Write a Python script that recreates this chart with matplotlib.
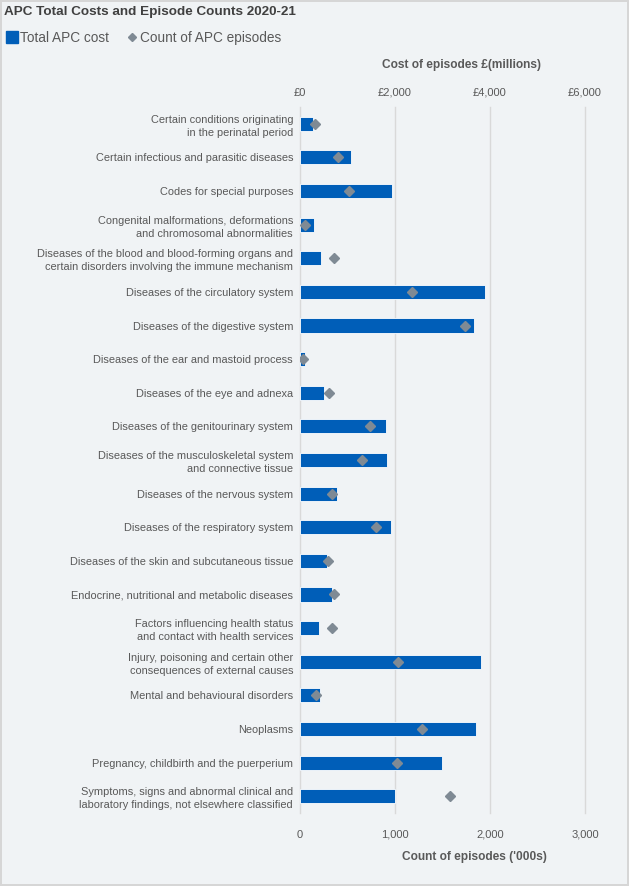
import matplotlib
matplotlib.use('Agg')
import matplotlib.pyplot as plt
from matplotlib.lines import Line2D

plt.rcParams['font.family'] = ['Liberation Sans', 'DejaVu Sans']

# categories (ICD chapters), top to bottom
categories = [
    'Certain conditions originating\nin the perinatal period',
    'Certain infectious and parasitic diseases',
    'Codes for special purposes',
    'Congenital malformations, deformations\nand chromosomal abnormalities',
    'Diseases of the blood and blood-forming organs and\ncertain disorders involving the immune mechanism',
    'Diseases of the circulatory system',
    'Diseases of the digestive system',
    'Diseases of the ear and mastoid process',
    'Diseases of the eye and adnexa',
    'Diseases of the genitourinary system',
    'Diseases of the musculoskeletal system\nand connective tissue',
    'Diseases of the nervous system',
    'Diseases of the respiratory system',
    'Diseases of the skin and subcutaneous tissue',
    'Endocrine, nutritional and metabolic diseases',
    'Factors influencing health status\nand contact with health services',
    'Injury, poisoning and certain other\nconsequences of external causes',
    'Mental and behavioural disorders',
    'Neoplasms',
    'Pregnancy, childbirth and the puerperium',
    'Symptoms, signs and abnormal clinical and\nlaboratory findings, not elsewhere classified',
]
# total APC cost, £ millions
cost = [283, 1071, 1943, 296, 444, 3886, 3654, 106, 500, 1803, 1824,
        775, 1922, 564, 676, 401, 3816, 416, 3711, 2986, 2000]
# count of APC episodes, thousands
episodes = [163, 401, 517, 57, 356, 1180, 1732, 36, 303, 736, 648,
            335, 799, 292, 363, 342, 1035, 166, 1288, 1021, 1584]

cost_ticks = [0, 2000, 4000, 6000]
count_ticks = [0, 1000, 2000, 3000]

bg = '#F0F3F5'
blue = '#005EB8'
grey = '#7F8A94'
txt = '#595959'

W, H = 629, 886
fig = plt.figure(figsize=(W / 100, H / 100), dpi=100, facecolor=bg,
                 edgecolor='#D6D6D6', linewidth=1.5)
ax = fig.add_axes([300 / W, 1 - 813 / H, 285 / W, 706 / H])
ax.set_facecolor(bg)
ax2 = ax.twiny()
ax2.patch.set_visible(False)

y = list(range(len(categories)))

# bars: cost, top axis
ax.barh(y, cost, height=0.42, color=blue, edgecolor='white', linewidth=0.6, zorder=2)
ax.set_xlim(0, 6000)
ax.set_xticks(cost_ticks)
ax.set_xticklabels(['£{:,}'.format(t) for t in cost_ticks])
ax.xaxis.tick_top()
ax.tick_params(axis='x', length=0, pad=6.5, labelsize=8, labelcolor=txt)
ax.set_yticks(y)
ax.set_yticklabels(categories, fontsize=7.9, color=txt, linespacing=1.4)
ax.tick_params(axis='y', length=0, pad=5)
ax.set_ylim(len(categories) - 0.5, -0.5)
ax.grid(axis='x', color='#D9D9D9', linewidth=1)
for gl in ax.get_xgridlines():
    gl.set_clip_on(False)
ax.set_axisbelow(True)
for s in ax.spines.values():
    s.set_visible(False)

# diamonds: episode count, bottom axis
ax2.plot(episodes, y, ls='none', marker='D', markersize=5.5, color=grey, zorder=3)
ax2.set_xlim(0, 3000)
ax2.set_xticks(count_ticks)
ax2.set_xticklabels(['{:,}'.format(t) for t in count_ticks])
ax2.xaxis.tick_bottom()
ax2.tick_params(axis='x', length=0, pad=12, labelsize=8, labelcolor=txt)
for s in ax2.spines.values():
    s.set_visible(False)

fig.text(4 / W, 1 - 12 / H, 'APC Total Costs and Episode Counts 2020-21',
         fontsize=9.7, fontweight='bold', color='#404040', va='center')
fig.text(462 / W, 1 - 65 / H, 'Cost of episodes £(millions)', fontsize=8.6,
         fontweight='bold', color=txt, ha='center', va='center')
fig.text(474 / W, 1 - 857 / H, "Count of episodes ('000s)", fontsize=8.6,
         fontweight='bold', color=txt, ha='center', va='center')

handles = [Line2D([], [], ls='none', marker='s', markersize=8.3, color=blue),
           Line2D([], [], ls='none', marker='D', markersize=4.2, color=grey)]
fig.legend(handles, ['Total APC cost', 'Count of APC episodes'], loc='center left',
           bbox_to_anchor=(6 / W, 1 - 38 / H), ncol=2, frameon=False, fontsize=9.8,
           handlelength=0.88, handletextpad=0.15, columnspacing=1.25,
           borderpad=0, borderaxespad=0, labelcolor=txt)

fig.savefig('out.png', dpi=100, facecolor=bg, edgecolor='#D6D6D6')
